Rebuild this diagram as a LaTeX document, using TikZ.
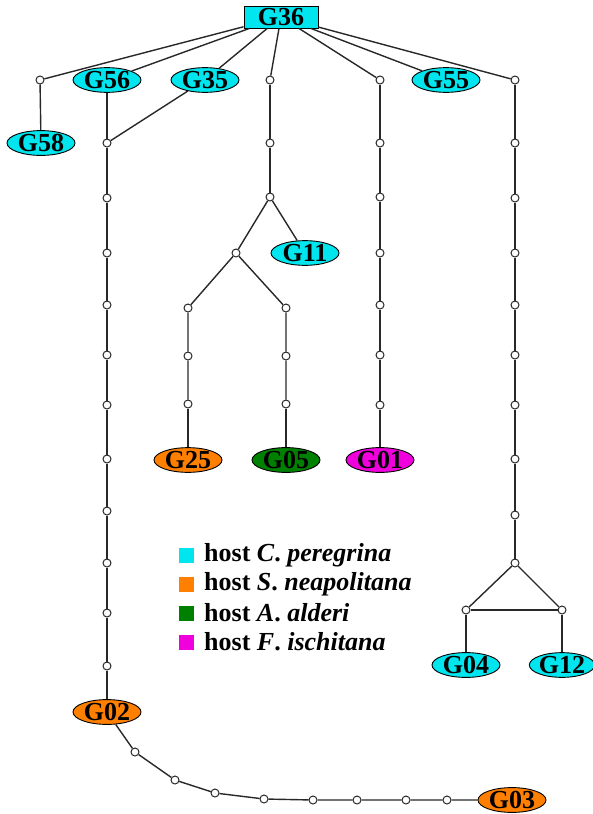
\documentclass[tikz,border=0pt]{standalone}
\usepackage{fontspec}
\setmainfont{Liberation Serif}
\usetikzlibrary{shapes.geometric}
\definecolor{cyanH}{RGB}{0,229,238}
\definecolor{orangeH}{RGB}{255,128,0}
\definecolor{greenH}{RGB}{0,128,0}
\definecolor{magH}{RGB}{240,0,220}
\definecolor{edgeC}{RGB}{40,40,40}
\begin{document}
\begin{tikzpicture}[x=1pt,y=-1pt,
  lbl/.style={ellipse, draw=black, line width=0.9pt, minimum width=68pt, minimum height=22pt, inner sep=0pt,
    font=\fontsize{26}{26}\selectfont\bfseries},
  cy/.style={lbl, fill=cyanH},
  orn/.style={lbl, fill=orangeH},
  grn/.style={lbl, fill=greenH},
  mgn/.style={lbl, fill=magH},
  dot/.style={circle, draw=edgeC, fill=white, line width=1pt, minimum size=8pt, inner sep=0pt},
  edge/.style={draw=edgeC, line width=1.4pt},
  legsq/.style={minimum size=15pt, inner sep=0pt},
  legtx/.style={anchor=west, inner sep=0pt, font=\fontsize{26}{26}\selectfont\bfseries}
]
\useasboundingbox (0,0) rectangle (593,814);

% root
\node[draw=black, fill=cyanH, line width=0.9pt, minimum width=74pt, minimum height=22pt, inner sep=0pt,
  font=\fontsize{26}{26}\selectfont\bfseries] (G36) at (281,17) {G36};

% row 1
\node[dot] (d1) at (40,80) {};
\node[cy] (G56) at (107,80) {G56};
\node[cy] (G35) at (205,80) {G35};
\node[dot] (b1) at (270,80) {};
\node[dot] (c1) at (380,80) {};
\node[cy] (G55) at (446,80) {G55};
\node[dot] (r1) at (515,80) {};

\foreach \n in {d1,G56,G35,b1,c1,G55,r1} \draw[edge] (G36) -- (\n);

% G58
\node[cy] (G58) at (41,143) {G58};
\draw[edge] (d1) -- (G58);

% column a (G56 chain)
\foreach \y [count=\i] in {143,198,253,305,355,405,459,511,563,613,666}
  \node[dot] (a\i) at (107,\y) {};
\draw[edge] (G56) -- (a1);
\draw[edge] (G35) -- (a1);
\foreach \i [evaluate=\i as \j using int(\i+1)] in {1,...,10}
  \draw[edge] (a\i) -- (a\j);
\node[orn] (G02) at (107,712) {G02};
\draw[edge] (a11) -- (G02);

% bottom chain
\node[dot] (e1) at (135,752) {};
\node[dot] (e2) at (175,780) {};
\node[dot] (e3) at (215,793) {};
\node[dot] (e4) at (264,799) {};
\node[dot] (e5) at (313,800) {};
\node[dot] (e6) at (357,800) {};
\node[dot] (e7) at (406,800) {};
\node[dot] (e8) at (447,800) {};
\node[orn] (G03) at (512,800) {G03};
\draw[edge] (G02) -- (e1) -- (e2) -- (e3) -- (e4) -- (e5) -- (e6) -- (e7) -- (e8) -- (G03);

% column b
\node[dot] (b2) at (270,143) {};
\node[dot] (b3) at (270,197) {};
\draw[edge] (b1) -- (b2) -- (b3);
\node[cy] (G11) at (305,253) {G11};
\node[dot] (bl) at (236,253) {};
\draw[edge] (b3) -- (G11);
\draw[edge] (b3) -- (bl);
\foreach \y [count=\i] in {308,356,404} {
  \node[dot] (p\i) at (188,\y) {};
  \node[dot] (q\i) at (286,\y) {};
}
\draw[edge] (bl) -- (p1) -- (p2) -- (p3);
\draw[edge] (bl) -- (q1) -- (q2) -- (q3);
\node[orn] (G25) at (188,460) {G25};
\node[grn] (G05) at (286,460) {G05};
\draw[edge] (p3) -- (G25);
\draw[edge] (q3) -- (G05);

% column c
\foreach \y [count=\i from 2] in {143,197,253,305,355,405}
  \node[dot] (c\i) at (380,\y) {};
\foreach \i [evaluate=\i as \j using int(\i+1)] in {1,...,6}
  \draw[edge] (c\i) -- (c\j);
\node[mgn] (G01) at (380,460) {G01};
\draw[edge] (c7) -- (G01);

% column r
\foreach \y [count=\i from 2] in {143,198,253,305,355,405,459,515,563}
  \node[dot] (r\i) at (515,\y) {};
\foreach \i [evaluate=\i as \j using int(\i+1)] in {1,...,9}
  \draw[edge] (r\i) -- (r\j);
\node[dot] (rl) at (466,610) {};
\node[dot] (rr) at (562,610) {};
\draw[edge] (r10) -- (rl);
\draw[edge] (r10) -- (rr);
\draw[edge] (rl) -- (rr);
\node[cy] (G04) at (466,665) {G04};
\node[cy, minimum width=62pt] (G12) at (562,665) {G12};
\draw[edge] (rl) -- (G04);
\draw[edge] (rr) -- (G12);

% legend
\node[legsq, fill=cyanH] (s1) at (186,555) {};
\node[legsq, fill=orangeH] (s2) at (186,584) {};
\node[legsq, fill=greenH] (s3) at (186,613) {};
\node[legsq, fill=magH] (s4) at (186,642) {};
\node[legtx] (t1) at (204,555) {host \textit{C}. \textit{peregrina}};
\node[legtx] (t2) at (204,584) {host \textit{S}. \textit{neapolitana}};
\node[legtx] (t3) at (204,613) {host \textit{A}. \textit{alderi}};
\node[legtx] (t4) at (204,642) {host \textit{F}. \textit{ischitana}};
\end{tikzpicture}
\end{document}
